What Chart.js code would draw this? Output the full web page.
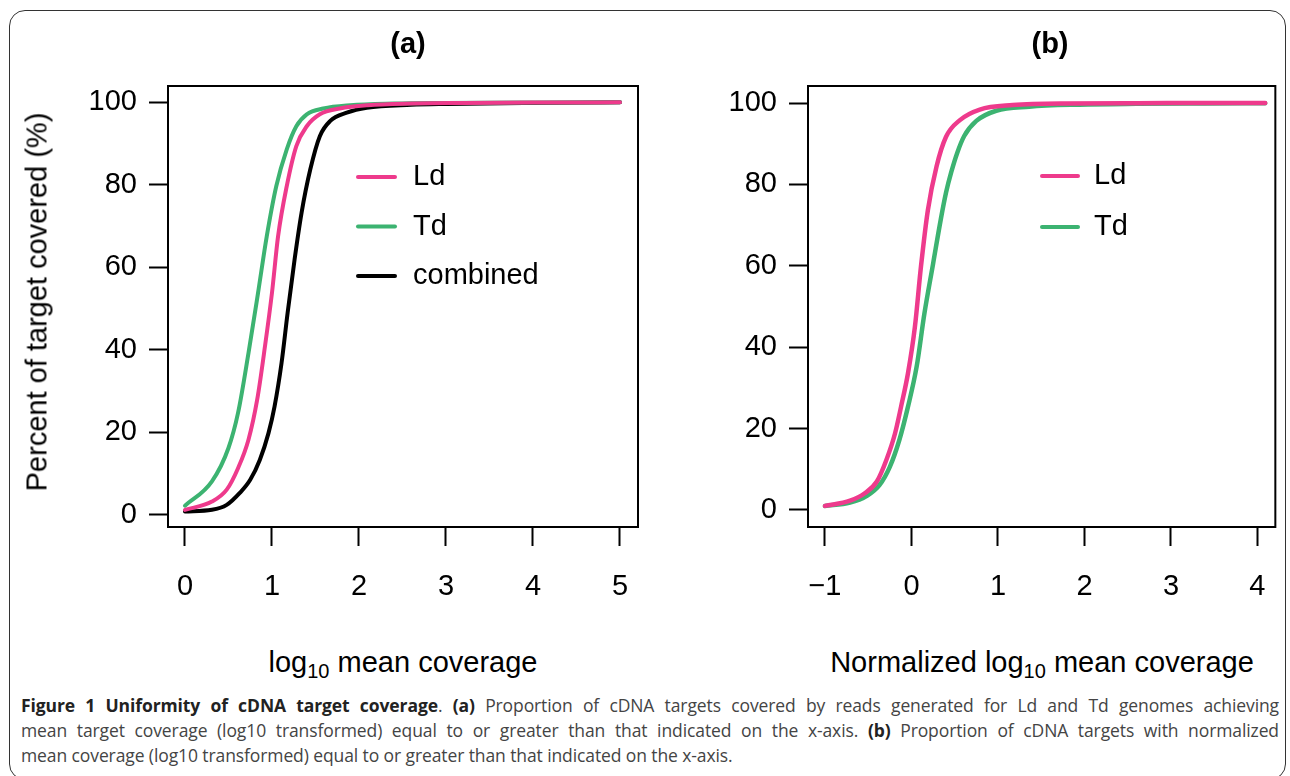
<!DOCTYPE html>
<html>
<head>
<meta charset="utf-8">
<script src="https://cdn.jsdelivr.net/npm/chart.js@4.4.1/dist/chart.umd.min.js"></script>
<style>
  html, body { margin: 0; padding: 0; background: #fff; }
  body { width: 1290px; height: 776px; position: relative; overflow: hidden; font-family: "Liberation Sans", Arial, Helvetica, sans-serif; }
  .frame { position: absolute; left: 9px; top: 10px; width: 1277px; height: 770px; border: 1.5px solid #333; border-radius: 16px; box-sizing: border-box; }
  canvas { position: absolute; top: 0; }
  .lbl { position: absolute; white-space: nowrap; color: #000; font-size: 29px; transform: translate(-50%, -50%); }
  .lbl sub { font-size: 20px; vertical-align: -6px; line-height: 0; }
  .ttl { font-weight: bold; }
  .rot { transform: translate(-50%, -50%) rotate(-90deg); }
  .caption { position: absolute; left: 21px; top: 693px; width: 1258px; font-family: "Open Sans", sans-serif; font-size: 17.5px; line-height: 25px; color: #444; letter-spacing: -0.1px; }
  .caption div { white-space: nowrap; }
  .caption .j { text-align: justify; text-align-last: justify; white-space: normal; }
  .caption b { color: #222; }
</style>
</head>
<body>
<div class="frame"></div>
<canvas id="chartA" width="660" height="620" style="left:0;width:660px;height:620px"></canvas>
<canvas id="chartB" width="630" height="620" style="left:660px;width:630px;height:620px"></canvas>

<div class="lbl ttl" style="left:408px;top:43px">(a)</div>
<div class="lbl ttl" style="left:1050px;top:43px">(b)</div>
<div class="lbl rot" style="left:37px;top:302px">Percent of target covered (%)</div>
<div class="lbl" style="left:403px;top:662px">log<sub>10</sub> mean coverage</div>
<div class="lbl" style="left:1042px;top:662px">Normalized log<sub>10</sub> mean coverage</div>

<div class="caption">
  <div class="j"><b>Figure 1 Uniformity of cDNA target coverage</b>. <b>(a)</b> Proportion of cDNA targets covered by reads generated for Ld and Td genomes achieving</div>
  <div class="j">mean target coverage (log10 transformed) equal to or greater than that indicated on the x-axis. <b>(b)</b> Proportion of cDNA targets with normalized</div>
  <div>mean coverage (log10 transformed) equal to or greater than that indicated on the x-axis.</div>
</div>

<script>
// panel (a): log10 mean coverage vs percent covered
const ldA_x = [0, 0.31, 0.48, 0.61, 0.73, 0.83, 0.92, 1.00, 1.07, 1.17, 1.28, 1.40, 1.55, 1.78, 2.1, 2.6, 3.2, 4.0, 5.0];
const ldA_y = [1.2, 3.2, 6.1, 11.3, 18.2, 27.9, 40.9, 53.8, 67.5, 79.7, 89.4, 94.2, 97.1, 98.5, 99.3, 99.7, 99.85, 99.95, 100];

const tdA_x = [0, 0.31, 0.50, 0.61, 0.73, 0.84, 0.94, 1.05, 1.17, 1.28, 1.40, 1.59, 1.90, 2.4, 3.0, 4.0, 5.0];
const tdA_y = [2.2, 8.1, 16.2, 24.7, 39.2, 53.8, 67.5, 79.7, 88.6, 94.2, 97.1, 98.5, 99.3, 99.7, 99.85, 99.95, 100];

const combA_x = [0, 0.31, 0.48, 0.63, 0.75, 0.86, 0.96, 1.03, 1.11, 1.18, 1.26, 1.34, 1.44, 1.55, 1.67, 1.86, 2.09, 2.6, 3.0, 4.0, 5.0];
const combA_y = [0.8, 1.2, 2.4, 5.3, 8.5, 13.3, 19.8, 26.3, 36.8, 49.0, 61.9, 73.2, 83.7, 91.8, 95.5, 97.5, 98.7, 99.4, 99.6, 99.85, 100];

// panel (b): normalized log10 mean coverage
const ldB_x = [-1, -0.71, -0.54, -0.40, -0.29, -0.19, -0.12, -0.04, 0.04, 0.11, 0.19, 0.29, 0.40, 0.56, 0.79, 1.17, 1.78, 2.6, 3.4, 4.09];
const ldB_y = [1.0, 2.3, 4.1, 7.0, 12.3, 18.8, 25.4, 33.6, 45.0, 59.8, 73.7, 84.4, 91.7, 95.8, 98.4, 99.5, 99.9, 99.95, 100, 100];

const tdB_x = [-1, -0.71, -0.52, -0.37, -0.25, -0.14, -0.04, 0.06, 0.15, 0.25, 0.34, 0.40, 0.46, 0.53, 0.61, 0.75, 0.98, 1.36, 1.94, 2.6, 3.4, 4.09];
const tdB_y = [1.0, 1.8, 3.4, 6.1, 10.6, 17.2, 25.4, 35.2, 48.3, 60.5, 71.5, 78.0, 83.0, 87.8, 91.9, 95.6, 98.1, 99.1, 99.6, 99.8, 99.9, 99.95];

const xTicksA = [0, 1, 2, 3, 4, 5];
const xTicksB = [-1, 0, 1, 2, 3, 4];
const yTicks = [0, 20, 40, 60, 80, 100];

const PINK = '#EE3A8C';
const GREEN = '#3CB371';
const BLACK = '#000000';
const FONT = 'Liberation Sans, Arial, Helvetica, sans-serif';

function pts(xs, ys) {
    return xs.map((x, i) => ({ x: x, y: ys[i] }));
}

// draw the full plot box like R's bty="o"
const boxPlugin = {
    id: 'box',
    afterDraw(chart) {
        const a = chart.chartArea;
        const ctx = chart.ctx;
        ctx.save();
        ctx.strokeStyle = '#000';
        ctx.lineWidth = 2;
        ctx.strokeRect(a.left, a.top, a.right - a.left, a.bottom - a.top);
        ctx.restore();
    }
};

// legend drawn inside the plot, from the datasets
const legendPlugin = {
    id: 'insideLegend',
    afterDraw(chart, args, opts) {
        const a = chart.chartArea;
        const ctx = chart.ctx;
        ctx.save();
        ctx.font = '29px ' + FONT;
        ctx.textBaseline = 'middle';
        ctx.fillStyle = '#000';
        chart.data.datasets.forEach((ds, i) => {
            const y = a.top + opts.y + i * opts.dy;
            const x0 = a.left + opts.x;
            ctx.strokeStyle = ds.borderColor;
            ctx.lineWidth = 4;
            ctx.lineCap = 'round';
            ctx.beginPath();
            ctx.moveTo(x0, y);
            ctx.lineTo(x0 + opts.len, y);
            ctx.stroke();
            ctx.fillText(ds.label, x0 + opts.len + opts.gap, y);
        });
        ctx.restore();
    }
};

function makeScales(xmin, xmax, xticks, ymin, ymax) {
    const gridOpts = { display: true, drawOnChartArea: false, drawTicks: true, tickLength: 19, tickWidth: 2, tickColor: '#000' };
    return {
        x: {
            type: 'linear', min: xmin, max: xmax,
            afterBuildTicks: s => { s.ticks = xticks.map(v => ({ value: v })); },
            afterFit: s => { s.height = 80; },
            grid: gridOpts,
            border: { display: true, color: '#000', width: 2 },
            ticks: {
                color: '#000', padding: 24, font: { family: FONT, size: 29 },
                callback: v => String(v).replace('-', '\u2212')
            }
        },
        y: {
            type: 'linear', min: ymin, max: ymax,
            afterBuildTicks: s => { s.ticks = yTicks.map(v => ({ value: v })); },
            afterFit: s => { s.width = 95; },
            grid: gridOpts,
            border: { display: true, color: '#000', width: 2 },
            ticks: { color: '#000', padding: 12, font: { family: FONT, size: 29 } }
        }
    };
}

function lineDs(label, data, color, w) {
    return {
        label: label, data: data, borderColor: color, backgroundColor: color,
        borderWidth: w, pointRadius: 0, fill: false,
        cubicInterpolationMode: 'monotone', borderCapStyle: 'round', borderJoinStyle: 'round'
    };
}

const ctxA = document.getElementById('chartA').getContext('2d');
const chartA = new Chart(ctxA, {
    type: 'line',
    data: {
        datasets: [
            lineDs('Ld', pts(ldA_x, ldA_y), PINK, 4),
            lineDs('Td', pts(tdA_x, tdA_y), GREEN, 4),
            lineDs('combined', pts(combA_x, combA_y), BLACK, 4)
        ]
    },
    options: {
        responsive: false, animation: false, parsing: false,
        layout: { padding: { left: 73, top: 86, right: 22, bottom: 13 } },
        plugins: {
            legend: { display: false }, tooltip: { enabled: false },
            insideLegend: { x: 190, y: 91, dy: 49.5, len: 37, gap: 18 }
        },
        scales: makeScales(-0.195, 5.207, xTicksA, -2.96, 103.96)
    },
    plugins: [boxPlugin, legendPlugin]
});

const ctxB = document.getElementById('chartB').getContext('2d');
const chartB = new Chart(ctxB, {
    type: 'line',
    data: {
        datasets: [
            lineDs('Ld', pts(ldB_x, ldB_y), PINK, 4.5),
            lineDs('Td', pts(tdB_x, tdB_y), GREEN, 4.5)
        ]
    },
    options: {
        responsive: false, animation: false, parsing: false,
        layout: { padding: { left: 53, top: 86, right: 13, bottom: 13 } },
        plugins: {
            legend: { display: false }, tooltip: { enabled: false },
            insideLegend: { x: 234, y: 90, dy: 51, len: 36, gap: 16 }
        },
        scales: makeScales(-1.196, 4.207, xTicksB, -4.18, 104.18)
    },
    plugins: [boxPlugin, legendPlugin]
});
</script>
</body>
</html>
